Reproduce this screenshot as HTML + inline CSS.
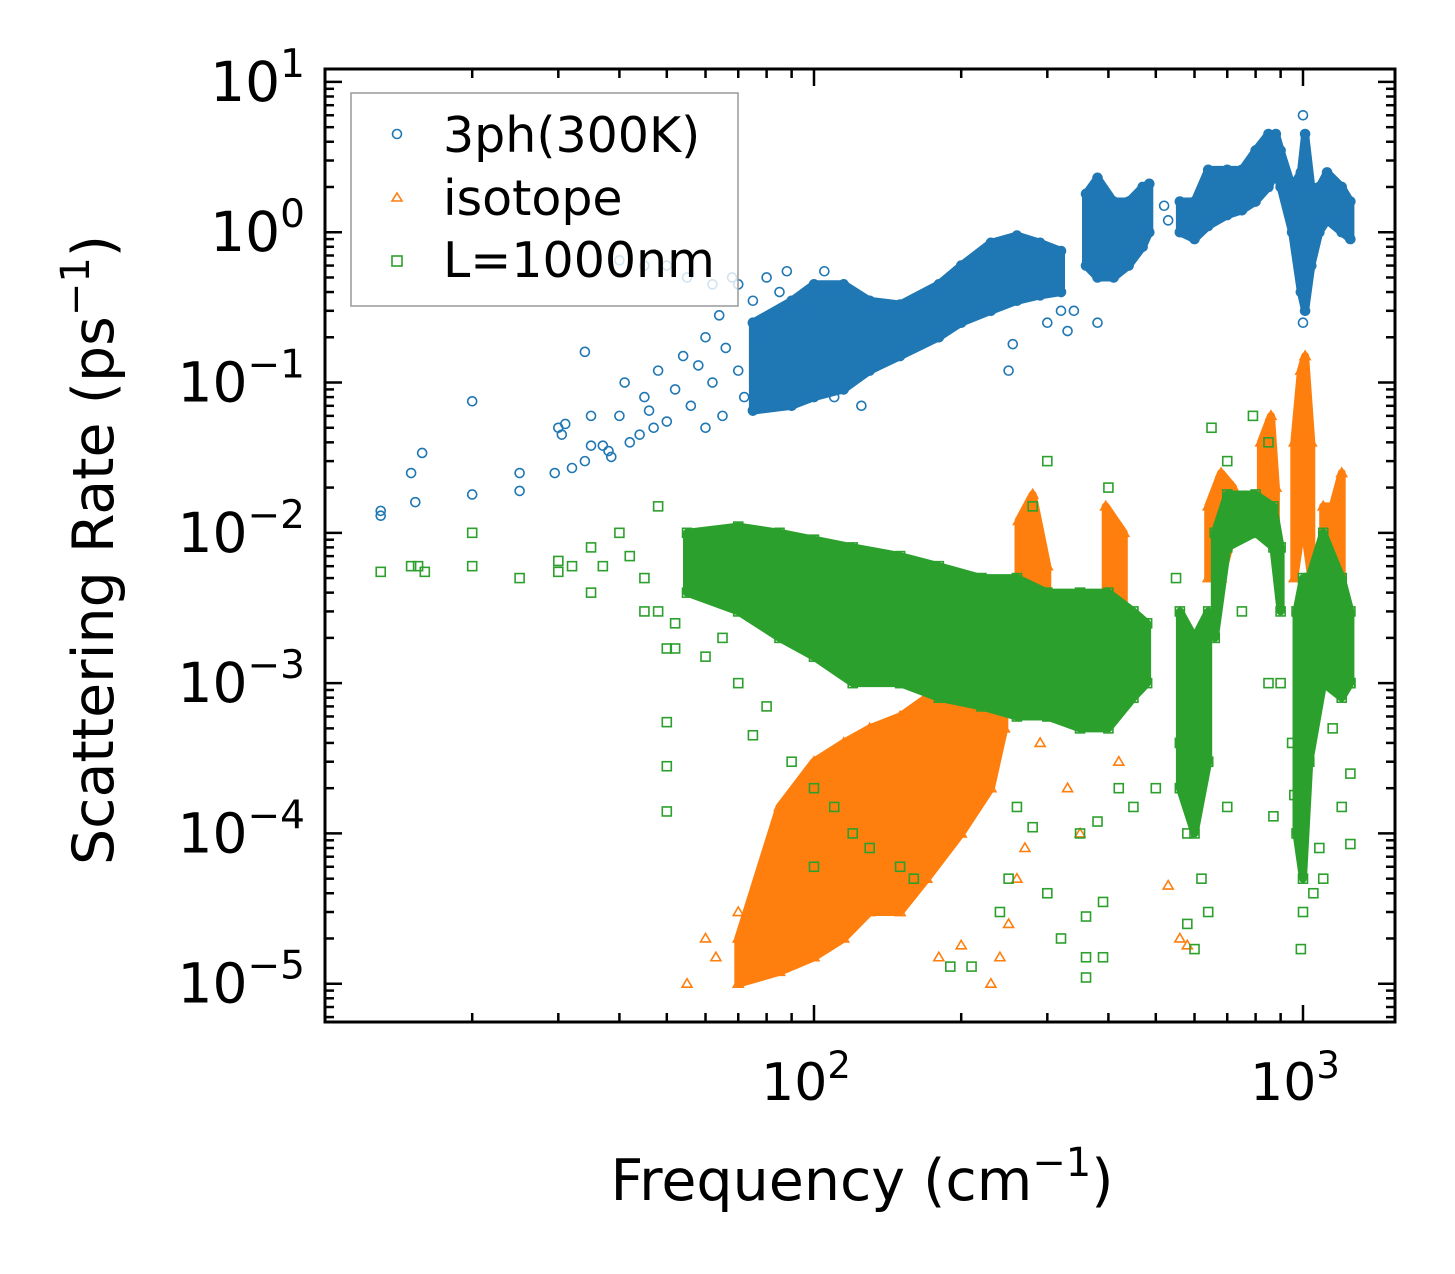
<!DOCTYPE html>
<html><head><meta charset="utf-8">
<style>
html,body{margin:0;padding:0;background:#fff;}
svg{display:block;font-family:"DejaVu Sans","Liberation Sans",sans-serif;}
</style></head>
<body>
<svg id="chart" width="1455" height="1274" viewBox="0 0 1455 1274">
  <rect x="0" y="0" width="1455" height="1274" fill="#fff"/>
  <defs><clipPath id="clip"><rect x="325" y="69" width="1070" height="953"/></clipPath></defs>
  <g id="plot" clip-path="url(#clip)"></g>
  <g id="axes"></g>
  <text x="862" y="1200" font-size="57" text-anchor="middle">Frequency (cm<tspan dy="-24" font-size="40">−1</tspan><tspan dy="24">)</tspan></text>
  <text transform="translate(113,550) rotate(-90)" font-size="57" text-anchor="middle">Scattering Rate (ps<tspan dy="-24" font-size="40">−1</tspan><tspan dy="24">)</tspan></text>
  <g>
    <rect x="351" y="93" width="387" height="213" fill="#fff" fill-opacity="0.8" stroke="#999" stroke-width="1.5"/>
    <circle cx="397" cy="134" r="4.5" fill="none" stroke="#1f77b4" stroke-width="1.6"/>
    <text x="443" y="152" font-size="49">3ph(300K)</text>
    <polygon points="397,193 402,201 392,201" fill="none" stroke="#ff7f0e" stroke-width="1.6"/>
    <text x="443" y="215" font-size="49">isotope</text>
    <rect x="392" y="256" width="10" height="10" fill="none" stroke="#2ca02c" stroke-width="1.6"/>
    <text x="443" y="277" font-size="49">L=1000nm</text>
  </g>
</svg>
<script>
// ---- data ----
const xTickValues = [100, 1000];
const xTickLabels = ["2", "3"];
const yTickValues = [10, 1, 0.1, 0.01, 0.001, 0.0001, 0.00001];
const yTickLabels = ["1", "0", "−1", "−2", "−3", "−4", "−5"];

const blueBands = [
  [[75,0.065,0.25],[90,0.07,0.35],[100,0.08,0.45],[115,0.09,0.45],[130,0.12,0.35],[150,0.15,0.33],[180,0.2,0.45],[200,0.25,0.6],[230,0.3,0.85],[260,0.35,0.95],[290,0.38,0.85],[320,0.4,0.75]],
  [[360,0.6,1.8],[380,0.5,2.3],[410,0.5,1.6],[440,0.6,1.6],[470,0.8,2.0],[485,1.0,2.1]],
  [[560,1.0,1.6],[600,0.9,1.6],[640,1.1,2.6],[700,1.3,2.6],[750,1.4,2.6],[800,1.6,3.5],[850,2.0,4.5],[880,2.5,4.5],[900,2.0,3.5],[950,1.0,2.0],[990,0.4,2.5],[1010,0.3,4.5],[1040,0.6,2.0],[1080,1.0,2.0],[1120,1.2,2.5],[1200,1.0,2.0],[1250,0.9,1.6]]
];
const bluePoints = [[13,0.013],[13,0.014],[15,0.025],[15.3,0.016],[15.8,0.034],[20,0.075],[20,0.018],[25,0.025],[25,0.019],[29.5,0.025],[30,0.05],[30.5,0.045],[31,0.053],[32,0.027],[34,0.16],[34,0.03],[35,0.038],[35,0.06],[37,0.038],[38,0.035],[38.5,0.032],[40,0.06],[41,0.1],[42,0.04],[44,0.045],[45,0.08],[46,0.065],[47,0.05],[48,0.12],[50,0.055],[52,0.09],[54,0.15],[56,0.07],[58,0.13],[60,0.2],[60,0.05],[62,0.1],[64,0.28],[65,0.06],[66,0.17],[68,0.5],[70,0.12],[72,0.08],[75,0.35],[78,0.2],[80,0.5],[85,0.4],[88,0.55],[95,0.3],[105,0.55],[110,0.08],[125,0.07],[40,0.65],[45,0.6],[50,0.6],[55,0.5],[62,0.45],[70,0.45],[300,0.25],[320,0.3],[250,0.12],[255,0.18],[330,0.22],[340,0.3],[380,0.25],[1000,0.25],[1000,6],[520,1.5],[530,1.2]];

const orangeBands = [
  [[70,1e-5,2e-5],[85,1.2e-5,1.5e-4],[100,1.5e-5,3e-4],[115,2e-5,4e-4],[130,3e-5,5e-4],[150,3e-5,6e-4],[170,5e-5,8e-4],[200,1e-4,1.5e-3],[230,2e-4,2e-3],[245,5e-4,3e-3]],
  [[262,3e-3,1.2e-2],[280,3e-3,1.8e-2],[300,3e-3,6e-3]],
  [[395,3e-3,1.5e-2],[430,3e-3,1e-2]],
  [[640,5e-3,1.5e-2],[680,5e-3,2.5e-2],[720,1e-2,2e-2]],
  [[820,1e-2,4e-2],[860,1e-2,6e-2],[880,1e-2,2e-2]],
  [[960,5e-3,4e-2],[990,1e-2,1.2e-1],[1010,1e-2,1.5e-1],[1040,5e-3,4e-2]],
  [[1100,3e-3,1.5e-2],[1150,2e-3,1.5e-2],[1200,2e-3,2.5e-2]]
];
const orangePoints = [[55,1e-5],[60,2e-5],[63,1.5e-5],[70,3e-5],[180,1.5e-5],[200,1.8e-5],[230,1e-5],[240,1.5e-5],[250,2.5e-5],[260,5e-5],[270,8e-5],[290,4e-4],[330,2e-4],[350,1e-4],[530,4.5e-5],[560,2e-5],[580,1.8e-5],[300,7e-4],[420,3e-4]];

const greenBands = [
  [[55,4e-3,1e-2],[70,3e-3,1.1e-2],[85,2e-3,1e-2],[100,1.5e-3,9e-3],[120,1e-3,8e-3],[150,1e-3,7e-3],[180,8e-4,6e-3],[220,7e-4,5e-3],[260,6e-4,5e-3],[300,6e-4,4e-3],[350,5e-4,4e-3],[400,5e-4,4e-3],[450,8e-4,3e-3],[480,1e-3,2.5e-3]],
  [[560,2e-4,3e-3],[600,1e-4,2e-3],[640,3e-4,3e-3]],
  [[660,2e-3,1e-2],[700,8e-3,1.8e-2],[800,1e-2,1.8e-2],[870,8e-3,1.5e-2],[900,3e-3,8e-3]],
  [[970,1e-4,3e-3],[1000,5e-5,5e-3],[1030,3e-4,5e-3],[1100,1e-3,1e-2],[1200,8e-4,5e-3],[1250,1e-3,3e-3]]
];
const greenPoints = [[13,5.5e-3],[15,6e-3],[15.5,6e-3],[16,5.5e-3],[20,6e-3],[20,1e-2],[25,5e-3],[30,5.5e-3],[30,6.5e-3],[32,6e-3],[35,4e-3],[35,8e-3],[37,6e-3],[40,1e-2],[42,7e-3],[45,3e-3],[45,5e-3],[48,3e-3],[48,1.5e-2],[50,1.7e-3],[50,5.5e-4],[50,2.8e-4],[50,1.4e-4],[52,1.7e-3],[52,2.5e-3],[60,1.5e-3],[65,2e-3],[70,1e-3],[75,4.5e-4],[80,7e-4],[90,3e-4],[100,2e-4],[100,6e-5],[110,1.5e-4],[120,1e-4],[130,8e-5],[150,6e-5],[160,5e-5],[190,1.3e-5],[210,1.3e-5],[240,3e-5],[250,5e-5],[260,1.5e-4],[280,1.1e-4],[300,4e-5],[320,2e-5],[350,1e-4],[360,2.8e-5],[360,1.1e-5],[360,1.5e-5],[390,1.5e-5],[390,3.5e-5],[380,1.2e-4],[400,2e-2],[420,2e-4],[450,1.5e-4],[500,2e-4],[560,4e-4],[580,1e-4],[580,2.5e-5],[600,1.7e-5],[620,5e-5],[640,3e-5],[700,1.5e-4],[750,3e-3],[790,6e-2],[850,1e-3],[870,1.3e-4],[900,1e-3],[950,4e-4],[960,1.8e-4],[990,1.7e-5],[1000,3e-5],[1050,4e-5],[1100,5e-5],[1080,8e-5],[1150,5e-4],[1200,1.5e-4],[1250,2.5e-4],[1250,8.5e-5],[1250,1e-3],[650,5e-2],[700,3e-2],[850,4e-2],[550,5e-3],[280,1.5e-2],[300,3e-2]];

// ---- axes functions ----
const X0=325, X1=1395, Y0=69, Y1=1022;
const xMinL=1.0, xDec=489;
const yTopL=1.086, yDec=150.3;
function xs(v){return X0+(Math.log10(v)-xMinL)*xDec;}
function ys(v){return Y0+(yTopL-Math.log10(v))*yDec;}
const NS="http://www.w3.org/2000/svg";
function mk(tag,attrs,parent){const e=document.createElementNS(NS,tag);for(const k in attrs)e.setAttribute(k,attrs[k]);parent.appendChild(e);return e;}
const plot=document.getElementById('plot');
const axes=document.getElementById('axes');

function drawBands(bands,color,name){
  bands.forEach((b,i)=>{
    let top=b.map(r=>xs(r[0]).toFixed(1)+','+ys(r[2]).toFixed(1));
    let bot=b.slice().reverse().map(r=>xs(r[0]).toFixed(1)+','+ys(r[1]).toFixed(1));
    const p=mk('polygon',{points:top.concat(bot).join(' '),fill:color,stroke:color,'stroke-width':8,'stroke-linejoin':'round'},plot);
    
    
  });
}
function marker(type,x,y,color,name){
  let e;
  if(type==='c') e=mk('circle',{cx:x,cy:y,r:4.5,fill:'none',stroke:color,'stroke-width':1.6},plot);
  else if(type==='t') e=mk('polygon',{points:`${x},${y-5} ${x+5},${y+3.5} ${x-5},${y+3.5}`,fill:'none',stroke:color,'stroke-width':1.6},plot);
  else e=mk('rect',{x:x-4.5,y:y-4.5,width:9,height:9,fill:'none',stroke:color,'stroke-width':1.6},plot);
  
  
}
function drawSeries(bands,points,type,color,name){
  drawBands(bands,color,name);
  bands.forEach(b=>b.forEach(r=>{marker(type,xs(r[0]),ys(r[1]),color,name+'-point');marker(type,xs(r[0]),ys(r[2]),color,name+'-point');}));
  points.forEach(p=>marker(type,xs(p[0]),ys(p[1]),color,name+'-point'));
}
drawSeries(blueBands,bluePoints,'c','#1f77b4','3ph');
drawSeries(orangeBands,orangePoints,'t','#ff7f0e','isotope');
drawSeries(greenBands,greenPoints,'s','#2ca02c','boundary');

// frame
const fr=mk('rect',{x:X0,y:Y0,width:X1-X0,height:Y1-Y0,fill:'none',stroke:'#000','stroke-width':3},axes);



// x ticks
for(let d=1; d<=3; d++){
  for(let m=1;m<=9;m++){
    const v=m*Math.pow(10,d); const x=xs(v);
    if(x<X0+1||x>X1-1) continue;
    const L=(m===1)?17:9;
    const t1=mk('line',{x1:x,x2:x,y1:Y1,y2:Y1-L,stroke:'#000','stroke-width':2.5},axes);
    
    
    const t2=mk('line',{x1:x,x2:x,y1:Y0,y2:Y0+L,stroke:'#000','stroke-width':2.5},axes);
    
    
  }
}
xTickValues.forEach((v,i)=>{
  const t=mk('text',{x:xs(v)-8,y:1100,'font-size':52,'text-anchor':'middle'},axes);
  t.innerHTML='10<tspan dy="-22" font-size="37">'+xTickLabels[i]+'</tspan>';
  
  
});
// y ticks
for(let d=-6; d<=1; d++){
  for(let m=1;m<=9;m++){
    const v=m*Math.pow(10,d); const y=ys(v);
    if(y<Y0+1||y>Y1-1) continue;
    const L=(m===1)?17:9;
    const t1=mk('line',{x1:X0,x2:X0+L,y1:y,y2:y,stroke:'#000','stroke-width':2.5},axes);
    
    
    const t2=mk('line',{x1:X1,x2:X1-L,y1:y,y2:y,stroke:'#000','stroke-width':2.5},axes);
    
    
  }
}
yTickValues.forEach((v,i)=>{
  const t=mk('text',{x:305,y:ys(v)+19,'font-size':55,'text-anchor':'end'},axes);
  t.innerHTML='10<tspan dy="-24" font-size="39">'+yTickLabels[i]+'</tspan>';
  
  
});
</script>
</body></html>
